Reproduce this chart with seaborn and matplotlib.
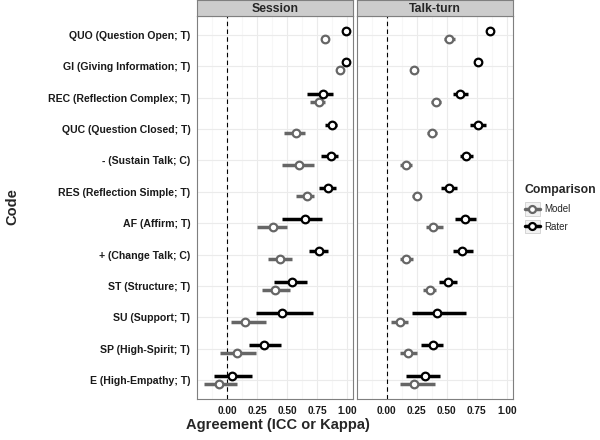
import numpy as np
import pandas as pd
import matplotlib
matplotlib.use("Agg")
import matplotlib.pyplot as plt
from matplotlib.lines import Line2D
from matplotlib.patches import Rectangle
from matplotlib.legend_handler import HandlerLine2D
from matplotlib.ticker import MultipleLocator
import seaborn as sns

sns.set_theme(style="whitegrid")
plt.rcParams['font.family'] = ['Liberation Sans', 'DejaVu Sans']

# --- Data ---
codes = ["QUO (Question Open; T)", "GI (Giving Information; T)",
         "REC (Reflection Complex; T)", "QUC (Question Closed; T)",
         "- (Sustain Talk; C)", "RES (Reflection Simple; T)",
         "AF (Affirm; T)", "+ (Change Talk; C)", "ST (Structure; T)",
         "SU (Support; T)", "SP (High-Spirit; T)", "E (High-Empathy; T)"]
panels = ["Session", "Talk-turn"]
comparisons = ["Model", "Rater"]

session_rater = [0.99, 0.99, 0.80, 0.87, 0.86, 0.84, 0.65, 0.765, 0.54, 0.46, 0.31, 0.04]
session_rater_lo = [0.98, 0.98, 0.66, 0.81, 0.78, 0.765, 0.46, 0.68, 0.39, 0.24, 0.18, -0.11]
session_rater_hi = [1.00, 1.00, 0.88, 0.915, 0.92, 0.905, 0.79, 0.835, 0.665, 0.71, 0.45, 0.21]
session_model = [0.81, 0.935, 0.76, 0.57, 0.60, 0.66, 0.38, 0.44, 0.40, 0.15, 0.08, -0.07]
session_model_lo = [0.78, 0.92, 0.69, 0.47, 0.46, 0.57, 0.25, 0.34, 0.29, 0.035, -0.06, -0.19]
session_model_hi = [0.85, 0.95, 0.81, 0.65, 0.72, 0.72, 0.50, 0.535, 0.52, 0.32, 0.24, 0.08]

turn_rater = [0.86, 0.76, 0.61, 0.76, 0.66, 0.52, 0.65, 0.63, 0.51, 0.42, 0.39, 0.32]
turn_rater_lo = [0.84, 0.74, 0.555, 0.69, 0.61, 0.455, 0.565, 0.55, 0.435, 0.21, 0.29, 0.16]
turn_rater_hi = [0.88, 0.78, 0.68, 0.83, 0.72, 0.585, 0.745, 0.715, 0.585, 0.66, 0.47, 0.445]
turn_model = [0.52, 0.23, 0.41, 0.38, 0.16, 0.25, 0.39, 0.165, 0.36, 0.11, 0.18, 0.23]
turn_model_lo = [0.48, 0.21, 0.37, 0.34, 0.11, 0.21, 0.33, 0.11, 0.30, 0.035, 0.115, 0.11]
turn_model_hi = [0.565, 0.25, 0.45, 0.42, 0.21, 0.29, 0.47, 0.22, 0.41, 0.18, 0.255, 0.40]

# long table
rows = []
series = {
    ("Session", "Rater"): (session_rater, session_rater_lo, session_rater_hi),
    ("Session", "Model"): (session_model, session_model_lo, session_model_hi),
    ("Talk-turn", "Rater"): (turn_rater, turn_rater_lo, turn_rater_hi),
    ("Talk-turn", "Model"): (turn_model, turn_model_lo, turn_model_hi),
}
for (panel, comp), (est, lo, hi) in series.items():
    for i, c in enumerate(codes):
        rows.append(dict(panel=panel, comparison=comp, code=c, idx=i,
                         est=est[i], lo=lo[i], hi=hi[i]))
df = pd.DataFrame(rows)

colors = {"Model": "#666666", "Rater": "#000000"}
offsets = {"Model": 0.13, "Rater": -0.13}


class KeyBoxHandler(HandlerLine2D):
    # ggplot-like legend key: grey box behind the line + point
    def create_artists(self, legend, orig_handle, xdescent, ydescent,
                       width, height, fontsize, trans):
        pad = 2.5
        box = Rectangle((-xdescent, -ydescent - pad), width, height + 2 * pad,
                        facecolor="#f2f2f2", edgecolor="#cfcfcf", lw=0.6,
                        transform=trans)
        arts = super().create_artists(legend, orig_handle, xdescent, ydescent,
                                      width, height, fontsize, trans)
        return [box] + arts


# --- Figure ---
fig = plt.figure(figsize=(6, 4.4), dpi=100)
panel_bottom, panel_h = 0.093, 0.8705
strip_h = 0.036
lefts = [0.3288, 0.5945]
width = 0.26

grid_major = "#ebebeb"
grid_minor = "#f7f7f7"
border = "#7f7f7f"

for k, panel in enumerate(panels):
    ax = fig.add_axes([lefts[k], panel_bottom, width, panel_h])
    sub = df[df.panel == panel]
    for comp in comparisons:
        d = sub[sub.comparison == comp]
        y = d.idx + offsets[comp]
        ax.hlines(y, d.lo, d.hi, color=colors[comp], lw=2.5, zorder=3)
        sns.scatterplot(x=d.est, y=y, ax=ax, color="white",
                        edgecolor=colors[comp], linewidth=1.6, s=30,
                        marker="o", zorder=4, legend=False)
    ax.axvline(0, color="black", lw=0.8, ls=(0, (4, 3)), zorder=2)
    ax.set_xlim(-0.249, 1.049)
    ax.set_ylim(len(codes) - 0.4, -0.6)
    ax.xaxis.set_major_locator(MultipleLocator(0.25))
    ax.xaxis.set_minor_locator(MultipleLocator(0.125))
    ax.set_xticks(np.arange(0, 1.01, 0.25))
    ax.set_xticklabels(["0.00", "0.25", "0.50", "0.75", "1.00"],
                       fontsize=7.3, fontweight="bold", color="#1a1a1a")
    ax.set_yticks(range(len(codes)))
    if k == 0:
        ax.set_yticklabels(codes, fontsize=7.6, fontweight="bold", color="#1a1a1a")
    else:
        ax.set_yticklabels([])
        ax.tick_params(axis="y", length=0)
    ax.set_facecolor("white")
    ax.grid(True, which="major", color=grid_major, lw=0.8)
    ax.grid(True, which="minor", axis="x", color=grid_minor, lw=0.8)
    ax.set_axisbelow(True)
    for s in ax.spines.values():
        s.set_color(border)
        s.set_linewidth(0.8)
    ax.tick_params(axis="both", which="major", length=3, width=0.6,
                   color=border, pad=2)
    ax.tick_params(axis="x", which="minor", length=0)
    if k == 0:
        ax.tick_params(axis="y", length=3, width=0.6, color=border, pad=2)
    ax.set_xlabel("")
    ax.set_ylabel("")

    # facet strip
    sax = fig.add_axes([lefts[k], panel_bottom + panel_h, width, strip_h])
    sax.set_facecolor("#cccccc")
    sax.set_xticks([])
    sax.set_yticks([])
    for s in sax.spines.values():
        s.set_color(border)
        s.set_linewidth(0.8)
    sax.text(0.5, 0.45, panel, ha="center", va="center", fontsize=8.8,
             fontweight="bold", transform=sax.transAxes)

fig.text(0.4625, 0.018, "Agreement (ICC or Kappa)", ha="center", va="bottom",
         fontsize=10.5, fontweight="bold")
fig.text(0.02, 0.53, "Code", rotation=90, ha="center", va="center",
         fontsize=10.5, fontweight="bold")

handles = [Line2D([0], [0], color=colors[c], lw=2.5, marker="o",
                  markerfacecolor="white", markeredgecolor=colors[c],
                  markeredgewidth=1.6, markersize=5) for c in comparisons]
leg = fig.legend(handles, comparisons, title="Comparison", loc="upper left",
                 bbox_to_anchor=(0.868, 0.59), frameon=False, fontsize=7,
                 handlelength=1.6, handletextpad=0.4, labelspacing=0.8,
                 borderaxespad=0, handler_map={Line2D: KeyBoxHandler()})
leg.get_title().set_fontweight("bold")
leg.get_title().set_fontsize(8.8)
leg._legend_box.align = "left"

fig.savefig("out.png", dpi=100)
